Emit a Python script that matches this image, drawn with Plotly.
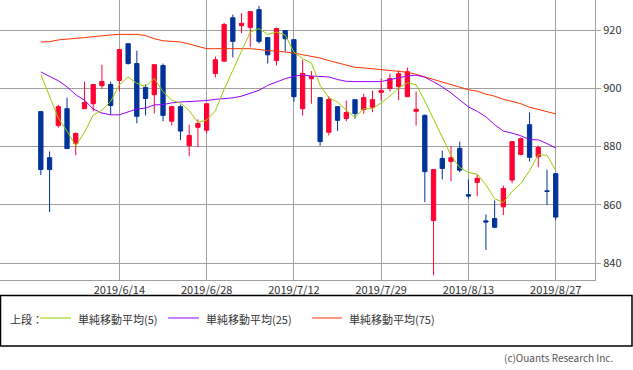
import plotly.graph_objects as go

dates = ["2019/6/3","2019/6/4","2019/6/5","2019/6/6","2019/6/7","2019/6/10","2019/6/11","2019/6/12","2019/6/13","2019/6/14",
         "2019/6/17","2019/6/18","2019/6/19","2019/6/20","2019/6/21","2019/6/24","2019/6/25","2019/6/26","2019/6/27","2019/6/28",
         "2019/7/1","2019/7/2","2019/7/3","2019/7/4","2019/7/5","2019/7/8","2019/7/9","2019/7/10","2019/7/11","2019/7/12",
         "2019/7/16","2019/7/17","2019/7/18","2019/7/19","2019/7/22","2019/7/23","2019/7/24","2019/7/25","2019/7/26","2019/7/29",
         "2019/7/30","2019/7/31","2019/8/1","2019/8/2","2019/8/5","2019/8/6","2019/8/7","2019/8/8","2019/8/9","2019/8/13",
         "2019/8/14","2019/8/15","2019/8/16","2019/8/19","2019/8/20","2019/8/21","2019/8/22","2019/8/23","2019/8/26","2019/8/27"]

open_ = [892.0,876.2,887.2,893.0,881.0,893.0,894.7,900.9,901.3,902.7,
         915.3,908.5,900.3,897.8,907.8,888.7,893.7,880.3,886.6,885.6,
         905.1,909.3,924.2,921.5,920.9,927.0,917.4,909.5,919.8,916.7,
         893.0,903.3,896.8,884.9,893.7,889.6,896.1,892.7,893.5,898.6,
         899.9,900.6,897.1,892.1,890.7,854.6,875.9,874.9,879.4,863.5,
         867.7,854.5,855.3,859.3,868.5,877.3,887.5,876.5,864.8,870.7]
high = [892.0,878.3,894.3,896.8,884.8,902.3,901.3,908.1,902.3,913.3,
        915.3,912.9,901.3,908.1,908.5,894.0,894.4,887.5,889.3,894.7,
        910.9,922.5,925.3,925.8,926.3,928.3,917.4,920.8,919.8,916.7,
        909.8,905.9,897.0,897.3,893.7,895.8,896.1,898.1,899.2,903.3,
        905.0,906.1,907.1,898.9,891.0,872.1,878.6,880.1,881.7,868.7,
        870.4,856.7,861.5,866.6,881.7,883.2,891.7,880.3,872.1,870.7]
low = [870.2,857.5,886.5,879.3,877.0,893.0,892.1,899.8,890.9,899.0,
       908.1,888.0,890.7,891.4,888.7,887.2,882.2,876.7,879.8,884.5,
       903.7,909.3,910.6,918.9,914.1,915.4,908.5,907.8,912.6,895.4,
       890.6,894.7,880.3,883.8,885.3,888.7,889.6,891.3,891.8,895.8,
       898.9,895.9,897.1,887.2,860.9,835.8,868.7,868.1,871.2,862.1,
       863.0,844.5,852.0,856.5,867.4,877.0,874.9,872.9,859.9,854.7]
close = [872.1,872.1,893.7,879.3,884.5,895.1,901.3,902.3,894.1,913.3,
         908.5,890.4,896.5,908.1,890.7,893.7,885.3,883.8,887.9,894.7,
         909.8,921.9,916.1,922.3,926.3,916.1,911.5,920.5,917.0,897.1,
         905.1,904.0,881.7,896.2,889.0,891.7,891.3,896.8,896.1,899.2,
         903.3,905.0,905.7,892.8,871.4,872.1,872.5,876.2,871.9,863.0,
         869.1,854.1,852.3,865.6,881.7,882.7,876.3,879.7,864.6,855.8]

ma5 = [904.7,897.0,889.8,885.3,880.3,884.9,890.8,892.5,895.5,901.2,
       903.9,901.7,900.6,903.4,898.8,895.9,894.9,892.3,888.3,889.1,
       892.3,899.6,906.1,913.0,919.3,920.5,918.5,919.3,918.3,912.4,
       910.2,908.7,901.0,896.8,895.2,892.5,890.0,893.0,893.0,895.0,
       897.3,900.1,901.9,901.2,895.6,889.4,882.9,877.0,872.8,871.1,
       870.5,866.9,862.1,860.8,864.6,867.3,871.7,877.2,877.0,871.8]
ma25 = [905.6,904.1,902.6,900.5,897.8,895.9,892.9,891.5,890.9,890.9,
        892.0,892.9,893.2,894.3,894.4,895.0,895.3,895.4,895.5,895.8,
        896.2,896.5,896.7,897.3,898.2,899.3,901.0,902.2,903.3,904.1,
        904.6,904.2,904.0,903.9,903.0,902.4,902.3,902.3,902.2,902.3,
        903.0,903.7,904.2,904.5,903.8,902.2,900.5,898.4,895.9,893.6,
        892.1,890.2,887.5,885.3,884.6,883.7,882.4,882.3,881.0,879.5]
ma75 = [915.9,916.0,916.6,916.8,917.0,917.4,917.7,918.1,918.3,918.5,
        918.6,918.5,918.1,917.0,916.3,916.0,915.9,915.2,914.4,913.6,
        913.6,913.6,913.6,913.6,913.6,913.3,912.9,912.8,912.5,912.1,
        911.5,911.0,910.4,909.5,908.7,908.0,907.2,907.0,906.7,906.4,
        906.2,905.8,905.5,904.8,903.9,903.0,902.2,901.1,900.2,899.5,
        899.0,898.0,897.3,896.2,895.5,894.7,893.5,892.7,892.0,891.2]

tick_dates = ["2019/6/14","2019/6/28","2019/7/12","2019/7/29","2019/8/13","2019/8/27"]
y_ticks = [840, 860, 880, 900, 920]
legend_labels = ["単純移動平均(5)", "単純移動平均(25)", "単純移動平均(75)"]
legend_prefix = "上段："
copyright_text = "(c)Ouants Research Inc."

RED = "#FF0033"
BLUE = "#003399"
C5, C25, C75 = "#99CC00", "#9900FF", "#FF3300"
GRID = "#A0A0A0"
FONT = "Noto Sans CJK JP"

fig = go.Figure()
fig.add_trace(go.Candlestick(
    x=dates, open=open_, high=high, low=low, close=close,
    increasing=dict(line=dict(color=RED, width=1), fillcolor=RED),
    decreasing=dict(line=dict(color=BLUE, width=1), fillcolor=BLUE),
    whiskerwidth=0, showlegend=False, hoverinfo="skip"))
for vals, col in ((ma75, C75), (ma25, C25), (ma5, C5)):
    fig.add_trace(go.Scatter(x=dates, y=vals, mode="lines",
                             line=dict(color=col, width=1), showlegend=False,
                             hoverinfo="skip"))

W, H = 595.0, 280.0
def px(x):
    return x / W
def py(y):
    return 1 - y / H

shapes = [dict(type="rect", xref="paper", yref="paper",
               x0=px(0.5), x1=px(632), y0=py(295.5), y1=py(346),
               line=dict(color="black", width=1.5), fillcolor="rgba(0,0,0,0)")]
annotations = [dict(text=legend_prefix, x=px(8), y=py(319), xref="paper", yref="paper",
                    xanchor="left", yanchor="middle", showarrow=False,
                    font=dict(family=FONT, size=11, color="#333"))]
items = [(40, 71, 76, C5), (168, 199, 204, C25), (312, 342, 347, C75)]
for (lx0, lx1, tx, col), lab in zip(items, legend_labels):
    shapes.append(dict(type="line", xref="paper", yref="paper",
                       x0=px(lx0), x1=px(lx1), y0=py(318), y1=py(318),
                       line=dict(color=col, width=1)))
    annotations.append(dict(text=lab, x=px(tx), y=py(319), xref="paper", yref="paper",
                            xanchor="left", yanchor="middle", showarrow=False,
                            font=dict(family=FONT, size=11, color="#333")))
annotations.append(dict(text=copyright_text, x=px(615), y=py(357), xref="paper", yref="paper",
                        xanchor="right", yanchor="middle", showarrow=False,
                        font=dict(family=FONT, size=10, color="#555")))

fig.update_layout(
    width=633, height=370,
    margin=dict(l=0, r=38, t=0, b=90),
    paper_bgcolor="white", plot_bgcolor="white",
    shapes=shapes, annotations=annotations,
    font=dict(family=FONT, size=11, color="#333"),
    xaxis=dict(type="category", range=[-4.68, 63.5], rangeslider=dict(visible=False),
               tickmode="array", tickvals=tick_dates, ticktext=tick_dates,
               showgrid=True, gridcolor=GRID, gridwidth=1,
               showline=True, linecolor=GRID, linewidth=1, mirror=True,
               ticks="", tickfont=dict(family=FONT, size=11, color="#333"), ticklabelstandoff=0),
    yaxis=dict(range=[834.2, 930.3], side="right", tickmode="array", tickvals=y_ticks,
               showgrid=True, gridcolor=GRID, gridwidth=1, zeroline=False,
               showline=True, linecolor=GRID, linewidth=1, mirror=True,
               ticks="outside", ticklen=5, tickcolor=GRID,
               tickfont=dict(family=FONT, size=11, color="#333")),
)
fig.write_html("out.html", config={"displayModeBar": False},
               post_script="document.body.style.margin='0';document.body.style.overflow='hidden';")
